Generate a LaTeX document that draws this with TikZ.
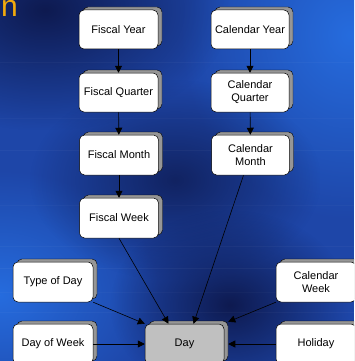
\documentclass[tikz,border=0pt]{standalone}
\usepackage{fontspec}
\setmainfont{Liberation Sans}
\usetikzlibrary{arrows.meta,shadows,calc,fadings}

\definecolor{bgbase}{RGB}{30,70,168}
\definecolor{bgbright}{RGB}{38,108,222}
\definecolor{bgdark}{RGB}{14,26,80}
\definecolor{shadowgray}{RGB}{150,150,150}
\definecolor{dayfill}{RGB}{192,192,192}
\definecolor{titleorange}{RGB}{242,170,12}

% soft radial spot used to tint the background
\tikzfading[name=softspot, inner color=transparent!0, outer color=transparent!100]

\begin{document}
\begin{tikzpicture}[x=1pt,y=-1pt,
  box/.style={draw=black, line width=0.5pt, fill=white, rounded corners=5pt,
    minimum width=79pt, minimum height=39pt, align=center, inner sep=1pt,
    font=\fontsize{11}{13}\selectfont,
    copy shadow={shadow xshift=4pt, shadow yshift=3pt, fill=shadowgray,
      draw=black, line width=0.4pt}},
  link/.style={-{Triangle[length=7pt,width=7pt]}, line width=0.6pt, draw=black}]

\useasboundingbox (0,0) rectangle (354,361);
\clip (0,0) rectangle (354,361);

% background
\fill[bgbase] (0,0) rectangle (354,361);
\fill[bgbright, path fading=softspot] (180,-150) rectangle (520,220);
\fill[bgbright, path fading=softspot] (-160,170) rectangle (160,420);
\fill[bgdark, path fading=softspot] (-140,-110) rectangle (230,130);
\fill[bgdark, path fading=softspot, fill opacity=0.8] (30,80) rectangle (320,280);
\fill[bgdark, path fading=softspot] (110,210) rectangle (350,400);
% faint horizontal streaks
\foreach \yy/\oo in {62/0.03, 118/0.025, 150/0.035, 205/0.025, 246/0.03, 268/0.04, 292/0.025, 312/0.03}
  \fill[white, opacity=\oo] (0,\yy) rectangle (354,\yy+1.2);

% title fragment
\node[anchor=base east, inner sep=0pt, text=titleorange,
  font=\fontsize{30}{30}\selectfont] (title) at (18,17) {on};

% fiscal hierarchy
\node[box] (FY) at (118.5,29.5) {Fiscal Year};
\node[box] (FQ) at (118.5,92.5) {Fiscal Quarter};
\node[box, minimum height=40pt] (FM) at (119,155) {Fiscal Month};
\node[box, minimum height=40pt] (FW) at (119,218) {Fiscal Week};

% calendar hierarchy
\node[box, minimum width=78pt] (CY) at (250,29.5) {Calendar Year};
\node[box, minimum width=78pt] (CQ) at (250,92.5) {Calendar\\Quarter};
\node[box, minimum width=78pt, minimum height=40pt] (CM) at (250.5,155) {Calendar\\Month};

% day attributes
\node[box, minimum width=80pt, minimum height=40pt] (TD) at (53,282) {Type of Day};
\node[box, minimum width=80pt, minimum height=40pt] (DW) at (53,344) {Day of Week};
\node[box, minimum height=40pt, fill=dayfill] (Day) at (184.5,344) {Day};
\node[box, minimum width=80pt, minimum height=40pt] (CW) at (316,282) {Calendar\\Week};
\node[box, minimum width=80pt, minimum height=40pt] (HO) at (316,344) {Holiday};

% connectors
\draw[link] (FY) -- (FQ);
\draw[link] (FQ) -- (FM);
\draw[link] (FM) -- (FW);
\draw[link] (CY) -- (CQ);
\draw[link] (CQ) -- (CM);
\draw[link] (FW.south) -- ($(Day.north)+(-16,0)$);
\draw[link] ($(CM.south)+(-7,0)$) -- ($(Day.north)+(9,0)$);
\draw[link] (TD.south east) -- (Day.north west);
\draw[link] (DW.east) -- (Day.west);
\draw[link] (CW.south west) -- ($(Day.north east)+(4,-2)$);
\draw[link] (HO.west) -- ($(Day.east)+(4,0)$);
\end{tikzpicture}
\end{document}
